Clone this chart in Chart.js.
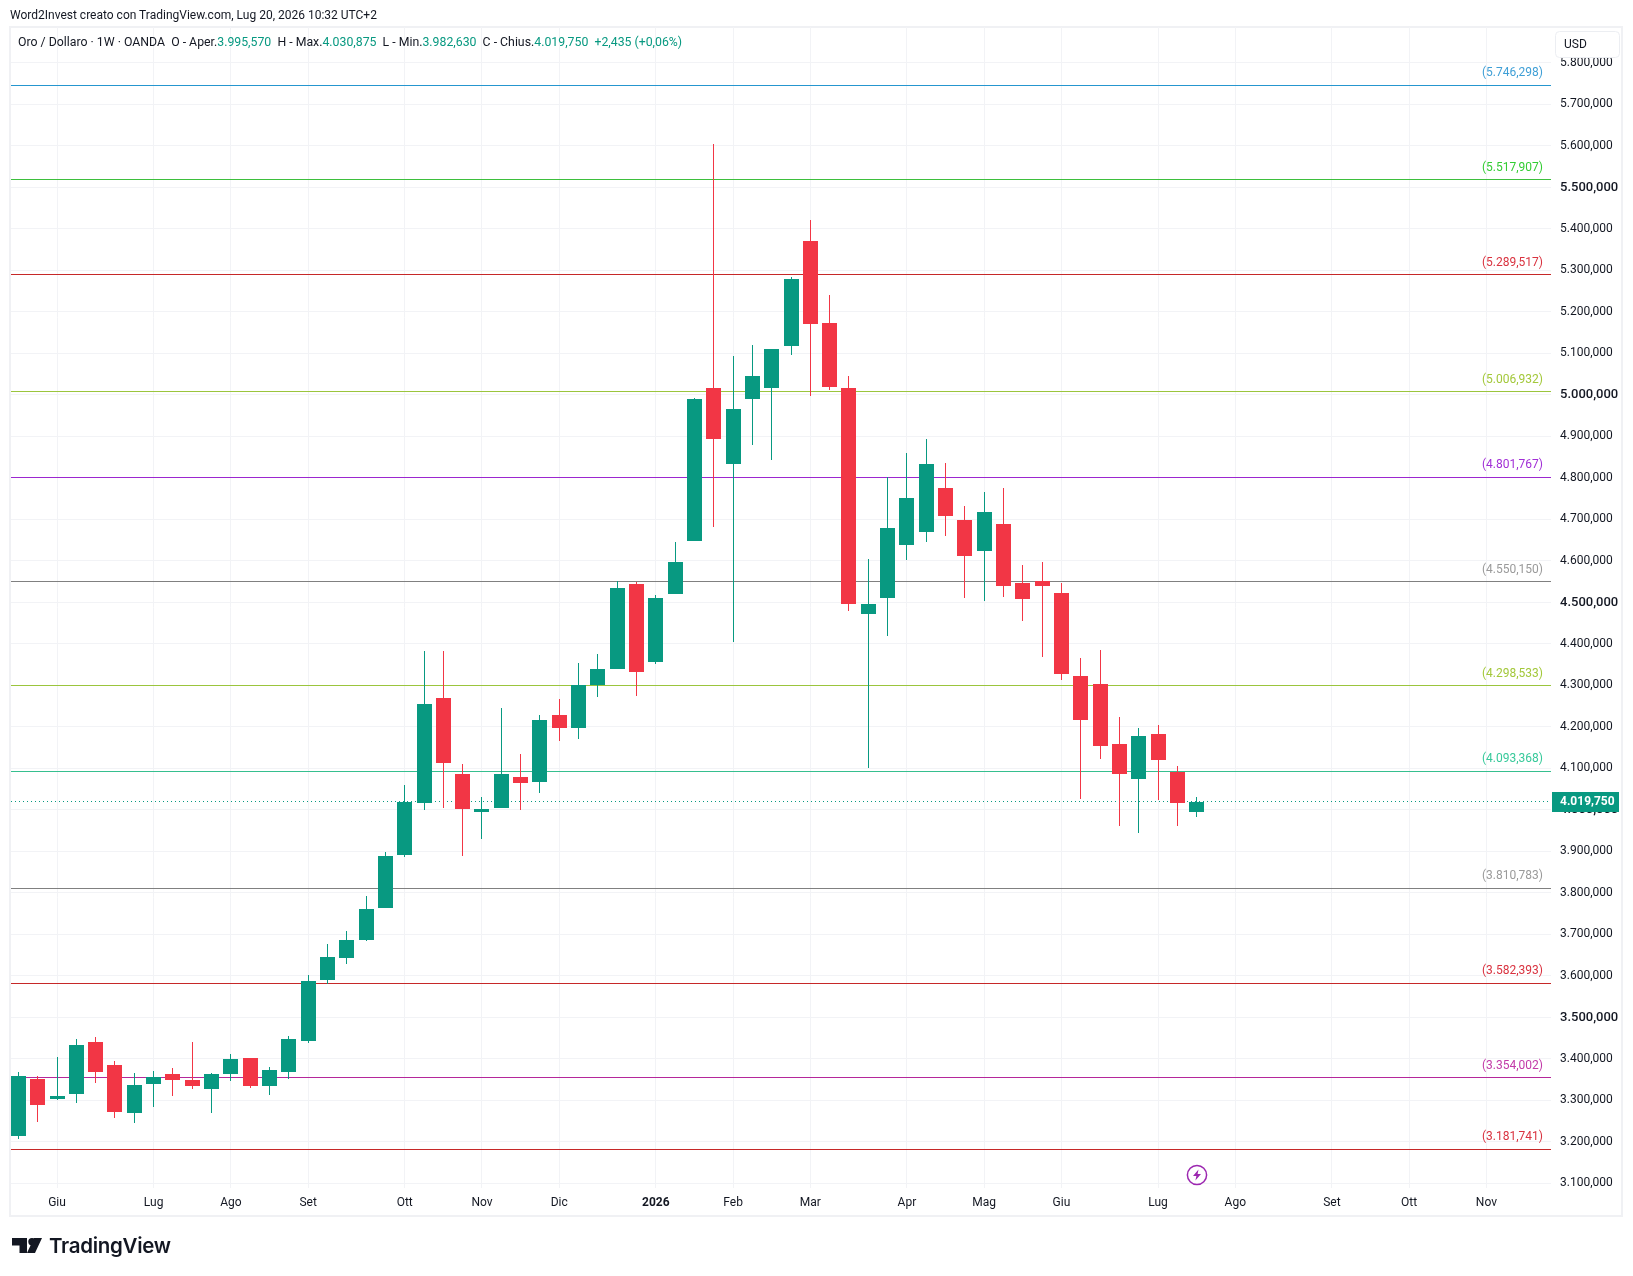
<!DOCTYPE html>
<html>
<head>
<meta charset="utf-8">
<title>Oro / Dollaro</title>
<script src="https://cdn.jsdelivr.net/npm/chart.js@4"></script>
<style>
  html, body { margin: 0; padding: 0; background: #fff; }
  #wrap { position: relative; width: 1633px; height: 1276px; overflow: hidden; }
  canvas { position: absolute; left: 0; top: 0; }
  .txt { position: absolute; white-space: pre; font-family: Roboto, sans-serif; color: #131722; }
  #creato { left: 10px; top: 8px; font-size: 12px; }
  #ohlc { left: 18px; top: 35px; font-size: 12.3px; }
  #ohlc b { font-weight: normal; color: #089981; }
  #brand { left: 49px; top: 1233px; font-family: Inter, sans-serif; font-weight: 600; font-size: 20.5px; letter-spacing: -0.3px; }
  svg { position: absolute; }
</style>
</head>
<body>
<div id="wrap">
  <canvas id="myChart" width="1633" height="1276"></canvas>
  <div class="txt" id="creato">Word2Invest creato con TradingView.com, Lug 20, 2026 10:32 UTC+2</div>
  <div class="txt" id="ohlc">Oro / Dollaro · 1W · OANDA  O - Aper.<b>3.995,570</b>  H - Max.<b>4.030,875</b>  L - Min.<b>3.982,630</b>  C - Chius.<b>4.019,750</b>  <b>+2,435 (+0,06%)</b></div>
  <svg style="left:12px;top:1238px" width="30" height="15" viewBox="0 0 30 15">
    <path d="M0 0H15V15H7.5V7.5H0Z" fill="#131722"/>
    <circle cx="20" cy="3.7" r="3.7" fill="#131722"/>
    <path d="M30 0L23 15H15L22 0Z" fill="#131722"/>
  </svg>
  <div class="txt" id="brand">TradingView</div>
  <svg style="left:1185px;top:1163px" width="24" height="24" viewBox="0 0 24 24">
    <circle cx="12" cy="12" r="9.6" fill="#fff" stroke="#9c27b0" stroke-width="1.5"/>
    <path d="M13.5 6.5L8 13h3.4l-1 4.5L16 11h-3.4z" fill="#9c27b0"/>
  </svg>
</div>
<script>
// candele settimanali, valori
const opens = [3214,3351,3303,3315,3440,3385,3269,3339,3363,3349,3327,3363,3402,3334,3368,3443,3590,3643,3686,3763,3891,4016,4269,4086,3995,4004,4079,4067,4228,4197,4301,4339,4544,4356,4520,4648,5016,4833,4990,5016,5118,5371,5173,5016,4472,4510,4638,4669,4775,4698,4624,4689,4546,4551,4522,4322,4303,4159,4074,4183,4091,3995.57];
const closes = [3359,3289,3310,3433,3368,3272,3337,3356,3349,3334,3363,3399,3334,3373,3448,3587,3645,3686,3761,3889,4019,4255,4113,4002,4002,4086,4065,4216,4197,4301,4339,4534,4332,4510,4597,4990,4893,4966,5045,5110,5279,5171,5019,4496,4496,4679,4751,4833,4708,4612,4718,4539,4508,4539,4327,4216,4154,4086,4178,4120,4016,4019.75];
const highs = [3368,3359,3404,3448,3452,3395,3366,3371,3378,3440,3366,3412,3402,3380,3455,3602,3677,3708,3792,3898,4060,4383,4383,4110,4031,4245,4134,4228,4267,4354,4375,4551,4549,4518,4645,4992,5604,5093,5120,5110,5284,5421,5240,5045,4604,4802,4860,4893,4836,4732,4766,4775,4590,4597,4546,4366,4385,4224,4197,4204,4106,4030.875];
const lows = [3207,3248,3301,3293,3342,3257,3245,3284,3310,3327,3269,3346,3330,3313,3351,3438,3580,3628,3684,3763,3886,3999,4004,3889,3930,4004,4000,4040,4166,4171,4272,4339,4274,4351,4520,4648,4681,4404,4879,4843,5096,4997,5012,4479,4101,4419,4602,4645,4660,4510,4503,4513,4455,4368,4313,4026,4122,3961,3944,4024,3961,3982.63];

// livelli orizzontali
const levels = [5746.298,5517.907,5289.517,5006.932,4801.767,4550.150,4298.533,4093.368,3810.783,3582.393,3354.002,3181.741];
const levelColors = ['#2596cf','#3dbf3d','#c62828','#9bc53d','#9c27d0','#808080','#9bc53d','#36bf8f','#808080','#c62828','#b5279b','#c62828'];
const levelTextColors = ['#3f9fd6','#33cc33','#d9323f','#a3c83a','#a12fd6','#9a9a9a','#a3c83a','#36c99a','#9a9a9a','#d9323f','#c23aa8','#d9323f'];

const lastPrice = 4019.75;
const yTicks = [3100,3200,3300,3400,3500,3600,3700,3800,3900,4000,4100,4200,4300,4400,4500,4600,4700,4800,4900,5000,5100,5200,5300,5400,5500,5600,5700,5800];
const monthIdx = [2,7,11,15,20,24,28,33,37,41,46,50,54,59,63,68,72,76];
const monthLabels = ['Giu','Lug','Ago','Set','Ott','Nov','Dic','2026','Feb','Mar','Apr','Mag','Giu','Lug','Ago','Set','Ott','Nov'];

const UP = '#089981', DOWN = '#f23645', GRID = '#f2f3f6', TEXT = '#131722';
const xMin = -0.3831, xMax = 79.344;
const FONT = 'Roboto, sans-serif';

// 5746.298 -> 5.746,298
function fmt(v) {
  const s = v.toFixed(3).split('.');
  return s[0].replace(/\B(?=(\d{3})+$)/g, '.') + ',' + s[1];
}

const candleColors = opens.map((o, i) => closes[i] >= o ? UP : DOWN);

function hLine(value, color, dash, order) {
  return {
    type: 'line', order: order,
    data: [{x: xMin, y: value}, {x: xMax, y: value}],
    borderColor: color, borderWidth: 1, borderDash: dash,
    pointRadius: 0, fill: false
  };
}

const datasets = [];
levels.forEach((lv, i) => datasets.push(hLine(lv, levelColors[i], [], 4)));
datasets.push(hLine(lastPrice, UP, [1, 3], 3));
datasets.push({
  type: 'bar', order: 2, barThickness: 1, grouped: false, inflateAmount: 0,
  data: lows.map((l, i) => ({x: i, y: [l, highs[i]]})),
  backgroundColor: candleColors
});
datasets.push({
  type: 'bar', order: 1, barThickness: 15, grouped: false, inflateAmount: 0,
  data: opens.map((o, i) => ({x: i, y: [o, closes[i]]})),
  backgroundColor: candleColors
});

// tiene candele e linee sui pixel interi, come nell'originale
const snapPlugin = {
  id: 'snap',
  beforeDatasetsDraw(chart) {
    chart.data.datasets.forEach((ds, n) => {
      chart.getDatasetMeta(n).data.forEach(el => {
        if (ds.type === 'bar') {
          el.x = Math.floor(el.x) + 0.5;
          el.y = Math.round(el.y);
          el.base = Math.round(el.base);
        } else {
          el.y = Math.floor(el.y) + 0.5;
        }
      });
    });
  }
};

const decorPlugin = {
  id: 'decor',
  beforeDraw(chart) {
    const c = chart.ctx;
    c.save();
    c.strokeStyle = '#f0f1f4';
    c.lineWidth = 2;
    c.strokeRect(10, 27, 1612, 1189);
    c.restore();
  },
  afterDraw(chart) {
    const c = chart.ctx, y = chart.scales.y;
    c.save();
    // etichette dei livelli
    c.font = '12px ' + FONT;
    c.textAlign = 'right';
    c.textBaseline = 'middle';
    levels.forEach((lv, i) => {
      c.fillStyle = levelTextColors[i];
      c.fillText('(' + fmt(lv) + ')', 1543, y.getPixelForValue(lv) - 12);
    });
    // prezzo corrente
    const py = Math.round(y.getPixelForValue(lastPrice));
    c.fillStyle = UP;
    c.fillRect(1552, py - 10, 67, 20);
    c.fillStyle = '#fff';
    c.font = 'bold 12px ' + FONT;
    c.textAlign = 'left';
    c.fillText(fmt(lastPrice), 1560, py);
    // riquadro valuta
    c.fillStyle = '#fff';
    c.strokeStyle = '#eceef2';
    c.beginPath();
    c.roundRect(1555.5, 31.5, 64, 26, 4);
    c.fill();
    c.stroke();
    c.fillStyle = TEXT;
    c.font = '12px ' + FONT;
    c.fillText('USD', 1564, 45);
    c.restore();
  }
};

const myChart = new Chart(document.getElementById('myChart'), {
  type: 'bar',
  data: { datasets: datasets },
  plugins: [snapPlugin, decorPlugin],
  options: {
    responsive: false,
    animation: false,
    devicePixelRatio: 1,
    layout: { padding: { left: 11, right: 11, top: 27, bottom: 61 } },
    plugins: { legend: { display: false }, tooltip: { enabled: false } },
    scales: {
      x: {
        type: 'linear', min: xMin, max: xMax, offset: false,
        afterBuildTicks(scale) { scale.ticks = monthIdx.map(v => ({value: v})); },
        afterFit(scale) { scale.height = 27; },
        grid: { color: GRID, drawTicks: false, offset: false },
        border: { display: false },
        ticks: {
          autoSkip: false, maxRotation: 0, padding: 8, color: TEXT,
          font: ctx => ({ family: FONT, size: 12, weight: ctx.tick && ctx.tick.value === 33 ? 'bold' : 'normal' }),
          callback(v) { return monthLabels[monthIdx.indexOf(v)]; }
        }
      },
      y: {
        type: 'linear', position: 'right', min: 3088.7, max: 5886.3,
        afterBuildTicks(scale) { scale.ticks = yTicks.map(v => ({value: v})); },
        afterFit(scale) { scale.width = 71; },
        grid: { color: GRID, drawTicks: false },
        border: { display: false },
        ticks: {
          padding: 9, color: TEXT,
          font: ctx => (ctx.tick && ctx.tick.value % 500 === 0
            ? { family: FONT, size: 13, weight: '500' }
            : { family: FONT, size: 12, weight: 'normal' }),
          callback(v) { return fmt(v); }
        }
      }
    }
  }
});
</script>
</body>
</html>
